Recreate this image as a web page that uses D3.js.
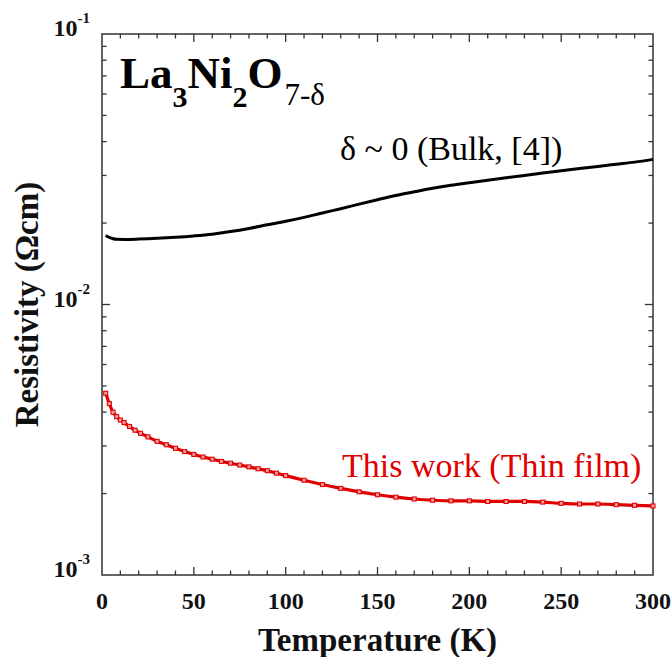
<!DOCTYPE html>
<html><head><meta charset="utf-8">
<script src="https://cdn.jsdelivr.net/npm/d3@7/dist/d3.min.js"></script>
<style>
html,body{margin:0;padding:0;background:#fff;}
svg text{font-family:"Liberation Serif","Times New Roman",serif;}
</style></head>
<body>
<svg id="chart" width="672" height="657"></svg>
<script>
// Data
const bulkT   = [2, 4, 6, 8, 12, 20, 30, 40, 50, 60, 70, 80, 90, 100, 110, 120, 130, 140, 150, 160, 170, 180, 190, 200, 210, 220, 230, 240, 250, 260, 270, 280, 290, 300];
const bulkRho = [0.0180, 0.0177, 0.01750, 0.01742, 0.01740, 0.01745, 0.01756, 0.01772, 0.01793, 0.0182, 0.0186, 0.0191, 0.0197, 0.0203, 0.0210, 0.0218, 0.0226, 0.0235, 0.0244, 0.0253, 0.0261, 0.0269, 0.0276, 0.0282, 0.0288, 0.0294, 0.0300, 0.0306, 0.0312, 0.0318, 0.0324, 0.0330, 0.0336, 0.0344];
const filmT   = [2, 4, 6, 8, 10, 12, 15, 18, 21, 25, 30, 35, 40, 45, 50, 55, 60, 65, 70, 75, 80, 85, 90, 95, 100, 110, 120, 130, 140, 150, 160, 170, 180, 190, 200, 210, 220, 230, 240, 250, 260, 270, 280, 290, 300];
const filmRho = [0.0047, 0.0043, 0.0040, 0.00385, 0.00374, 0.00366, 0.00354, 0.00343, 0.00334, 0.00324, 0.00312, 0.00303, 0.00294, 0.00286, 0.00279, 0.00273, 0.00268, 0.00263, 0.00259, 0.00255, 0.00251, 0.00247, 0.00243, 0.00238, 0.00233, 0.00224, 0.00216, 0.00209, 0.00203, 0.00198, 0.00194, 0.00191, 0.00189, 0.00188, 0.00188, 0.00187, 0.00187, 0.00187, 0.00186, 0.00184, 0.00183, 0.00183, 0.00182, 0.00181, 0.00180];
const xMajorTicks = [0, 50, 100, 150, 200, 250, 300];
const yDecades = [{v:1e-1, e:"-1"}, {v:1e-2, e:"-2"}, {v:1e-3, e:"-3"}];
const xTitle = "Temperature (K)";
const yTitle = "Resistivity (Ωcm)";
const bulkLabel = "δ ~ 0 (Bulk, [4])";
const filmLabel = "This work (Thin film)";

const svg = d3.select("#chart");
const L = 102, R = 653, T = 34, B = 575;
const x = d3.scaleLinear().domain([0, 300]).range([L, R]);
const y = d3.scaleLog().domain([1e-3, 1e-1]).range([B, T]);

const axisColor = "#333";
// Frame
svg.append("rect").attr("x", L).attr("y", T).attr("width", R - L).attr("height", B - T)
  .attr("fill", "none").attr("stroke", axisColor).attr("stroke-width", 1.5);

// X ticks (inside, bottom and top)
const xMinor = d3.range(0, 301, 10);
xMinor.forEach(t => {
  const major = t % 50 === 0;
  const len = major ? 8 : 4.5;
  if (t === 0 || t === 300) return;
  svg.append("line").attr("x1", x(t)).attr("x2", x(t)).attr("y1", B).attr("y2", B - len)
    .attr("stroke", axisColor).attr("stroke-width", 1.3);
  svg.append("line").attr("x1", x(t)).attr("x2", x(t)).attr("y1", T).attr("y2", T + len)
    .attr("stroke", axisColor).attr("stroke-width", 1.3);
});
xMajorTicks.forEach(t => {
  svg.append("text").attr("x", x(t)).attr("y", 609).attr("text-anchor", "middle")
    .attr("font-size", 24).attr("font-weight", "bold").attr("fill", "#111").text(t);
});

// Y ticks (log)
const yTickVals = y.ticks();
yTickVals.forEach(v => {
  const m = Math.round(v / Math.pow(10, Math.floor(Math.log10(v) + 1e-9)));
  const major = m === 1;
  const len = major ? 8 : 4.5;
  if (v <= 1e-3 * 1.0001 || v >= 1e-1 * 0.9999) return;
  svg.append("line").attr("x1", L).attr("x2", L + len).attr("y1", y(v)).attr("y2", y(v))
    .attr("stroke", axisColor).attr("stroke-width", 1.3);
  svg.append("line").attr("x1", R).attr("x2", R - len).attr("y1", y(v)).attr("y2", y(v))
    .attr("stroke", axisColor).attr("stroke-width", 1.3);
});
yDecades.forEach(d => {
  const g = svg.append("text").attr("x", 90).attr("y", y(d.v) + 2).attr("text-anchor", "end")
    .attr("font-weight", "bold").attr("fill", "#111");
  g.append("tspan").attr("font-size", 24).text("10");
  g.append("tspan").attr("font-size", 15).attr("dy", -13).text(d.e);
});

// Axis titles
svg.append("text").attr("x", (L + R) / 2).attr("y", 651).attr("text-anchor", "middle")
  .attr("font-size", 33).attr("font-weight", "bold").attr("fill", "#111").text(xTitle);
svg.append("text").attr("transform", `translate(38,${(T + B) / 2}) rotate(-90)`)
  .attr("text-anchor", "middle").attr("font-size", 33).attr("font-weight", "bold")
  .attr("fill", "#111").text(yTitle);

// Curves
const bulk = bulkT.map((t, i) => [t, bulkRho[i]]);
const film = filmT.map((t, i) => [t, filmRho[i]]);
const line = d3.line().x(d => x(d[0])).y(d => y(d[1])).curve(d3.curveMonotoneX);

svg.append("path").datum(film).attr("d", line).attr("fill", "none")
  .attr("stroke", "#e00000").attr("stroke-width", 3.2);
svg.append("g").selectAll("rect").data(film).join("rect")
  .attr("x", d => x(d[0]) - 2).attr("y", d => y(d[1]) - 2).attr("width", 4).attr("height", 4)
  .attr("fill", "#f4a0a0").attr("stroke", "#e00000").attr("stroke-width", 1.1);

svg.append("path").datum(bulk).attr("d", line).attr("fill", "none")
  .attr("stroke", "#000").attr("stroke-width", 3);

// Labels
const title = svg.append("text").attr("x", 120).attr("y", 88).attr("fill", "#000");
title.append("tspan").attr("font-size", 45).attr("font-weight", "bold").text("La");
title.append("tspan").attr("font-size", 30).attr("font-weight", "bold").attr("dy", 19).text("3");
title.append("tspan").attr("font-size", 45).attr("font-weight", "bold").attr("dy", -19).text("Ni");
title.append("tspan").attr("font-size", 30).attr("font-weight", "bold").attr("dy", 19).text("2");
title.append("tspan").attr("font-size", 45).attr("font-weight", "bold").attr("dy", -19).text("O");
title.append("tspan").attr("font-size", 31).attr("dy", 17).attr("dx", 2).text("7-δ");

svg.append("text").attr("x", 340).attr("y", 160).attr("font-size", 34).attr("fill", "#000").text(bulkLabel);
svg.append("text").attr("x", 342).attr("y", 477).attr("font-size", 34).attr("fill", "#e00000").text(filmLabel);
</script>
</body></html>
